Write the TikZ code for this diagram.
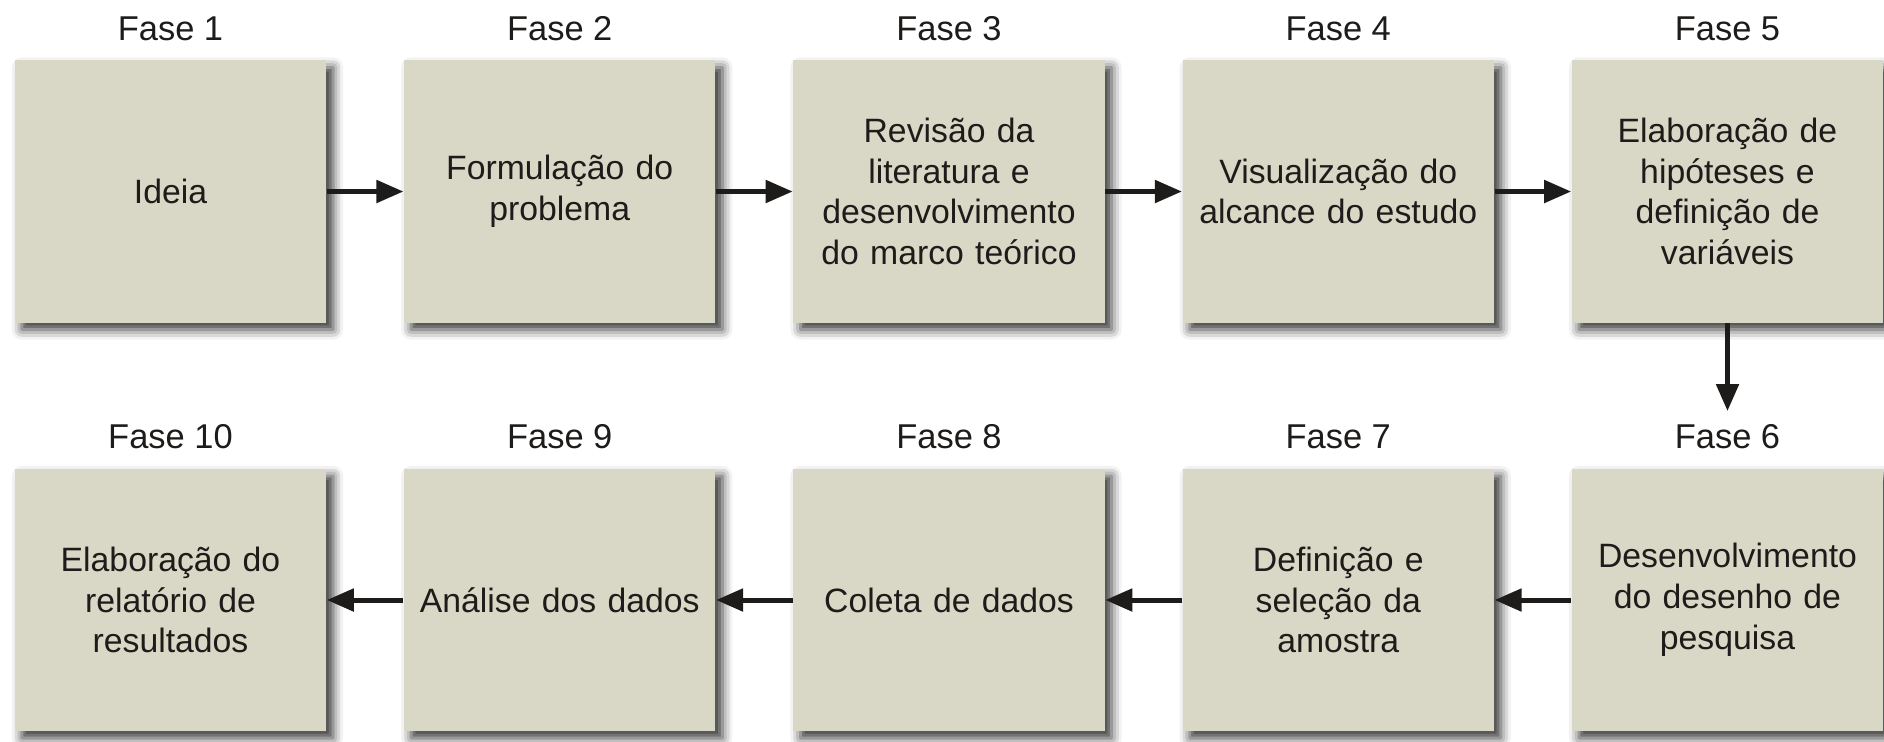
\documentclass[tikz,border=0pt]{standalone}
\usepackage{fontspec}
\setmainfont{Liberation Sans}
\usepackage{xcolor}
\usetikzlibrary{arrows.meta,shadows.blur}
\definecolor{boxFill}{HTML}{D9D7C5}
\definecolor{inkBlack}{HTML}{1E1C1A}

\begin{document}
\begin{tikzpicture}[x=0.01cm,y=-0.01cm]
  \tikzset{
    phase/.style={fill=boxFill,minimum width=3.11cm,minimum height=2.62cm,text width=2.9cm,align=center,inner sep=0pt,
      font=\fontsize{9.6}{11.6}\selectfont,text=inkBlack,
      blur shadow={shadow xshift=0.07cm,shadow yshift=-0.07cm,shadow blur radius=0.1cm,shadow opacity=80}},
    tag/.style={font=\fontsize{9.8}{11.6}\selectfont,text=inkBlack,inner sep=0pt},
    flow/.style={-{Triangle[length=0.27cm,width=0.22cm]},line width=0.05cm,draw=inkBlack}
  }
  \useasboundingbox (0,0) rectangle (1884,741);

  % top row
  \node[phase] (p1) at (170.5,191.5) {Ideia};
  \node[phase] (p2) at (559.75,191.5) {Formulação do\\problema};
  \node[phase] (p3) at (949,191.5) {Revisão da\\literatura e\\desenvolvimento\\do marco teórico};
  \node[phase] (p4) at (1338.25,191.5) {Visualização do\\alcance do estudo};
  \node[phase] (p5) at (1727.5,191.5) {Elaboração de\\hipóteses e\\definição de\\variáveis};

  % bottom row
  \node[phase] (p6) at (1727.5,600) {Desenvolvimento\\do desenho de\\pesquisa};
  \node[phase] (p7) at (1338.25,600) {Definição e\\seleção da\\amostra};
  \node[phase] (p8) at (949,600) {Coleta de dados};
  \node[phase] (p9) at (559.75,600) {Análise dos dados};
  \node[phase] (p10) at (170.5,600) {Elaboração do\\relatório de\\resultados};

  \foreach \n/\x in {1/170.5,2/559.75,3/949,4/1338.25,5/1727.5}
    {\node[tag] (l\n) at (\x,28.5) {Fase \n};}
  \foreach \n/\x in {6/1727.5,7/1338.25,8/949,9/559.75,10/170.5}
    {\node[tag] (l\n) at (\x,437) {Fase \n};}

  \draw[flow] (p1) -- (p2);
  \draw[flow] (p2) -- (p3);
  \draw[flow] (p3) -- (p4);
  \draw[flow] (p4) -- (p5);
  \draw[flow,shorten >=0.13cm] (p5) -- (l6);
  \draw[flow] (p6) -- (p7);
  \draw[flow] (p7) -- (p8);
  \draw[flow] (p8) -- (p9);
  \draw[flow] (p9) -- (p10);
\end{tikzpicture}
\end{document}
